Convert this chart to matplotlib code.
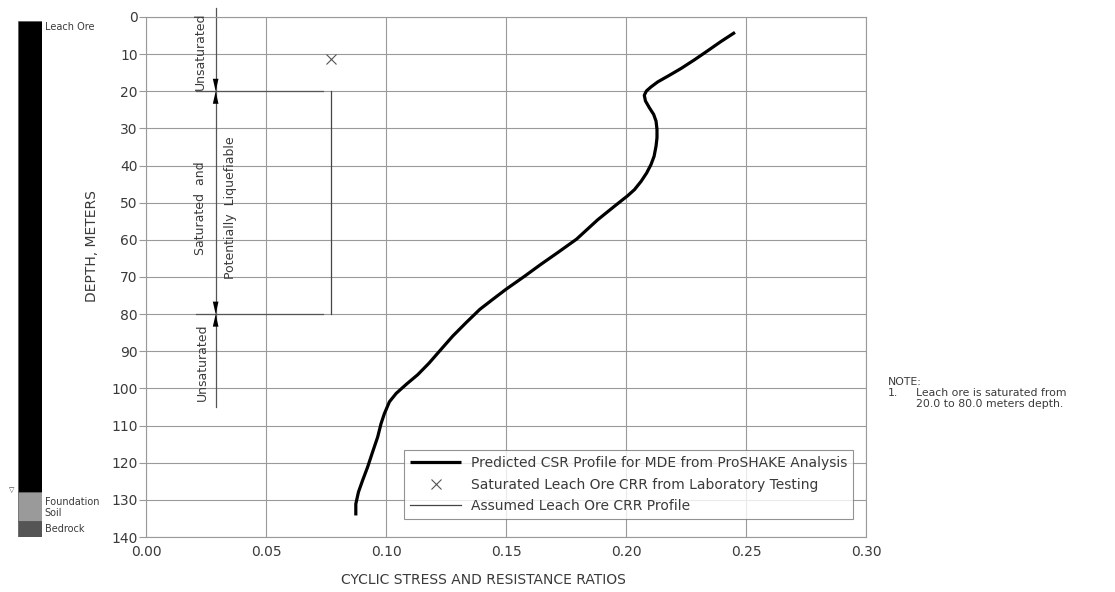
import matplotlib
matplotlib.use("Agg")
import matplotlib.pyplot as plt

plt.rcParams["font.family"] = ["DejaVu Sans"]

# predicted CSR profile (ProSHAKE)
csr_depth = [4.14, 6.58, 9.10, 11.53, 13.87, 15.68, 17.48, 18.83, 19.91, 21.08,
             22.61, 24.41, 26.22, 28.02, 30.27, 32.52, 34.77, 37.48, 39.73, 41.98,
             44.23, 46.49, 48.11, 50.99, 54.59, 59.8, 63.4, 66.6, 69.9, 73.3,
             76.2, 78.7, 82.2, 85.9, 89.5, 93.2, 96.3, 98.8, 101.35, 103.6,
             106.8, 109.5, 113.1, 117.1, 121.2, 124.8, 127.9, 131.1, 134.2]
csr_ratio = [0.2454, 0.2396, 0.2340, 0.2285, 0.2229, 0.2181, 0.2132, 0.2104, 0.2085, 0.2076,
             0.2081, 0.2097, 0.2115, 0.2125, 0.2129, 0.2129, 0.2125, 0.2117, 0.2104, 0.2086,
             0.2063, 0.2035, 0.2007, 0.1951, 0.1882, 0.1794, 0.1716, 0.1645, 0.1575, 0.1500,
             0.1441, 0.1391, 0.1335, 0.1278, 0.1229, 0.1179, 0.1132, 0.1086, 0.1042, 0.1014,
             0.0993, 0.0979, 0.0965, 0.0944, 0.0923, 0.0902, 0.0885, 0.0874, 0.0874]

# laboratory CRR point
lab_ratio = [0.077]
lab_depth = [11.3]

# assumed CRR profile over the saturated zone
crr_ratio = [0.077, 0.077]
crr_depth = [20.0, 80.0]
sat_top, sat_bottom = 20.0, 80.0

# soil column
layer_names = ["Leach Ore", "Foundation\nSoil", "Bedrock"]
layer_top = [1.1, 127.9, 135.7]
layer_bottom = [127.9, 135.7, 140.0]
layer_colors = ["#000000", "#9a9a9a", "#555555"]

x_ticks = [0.00, 0.05, 0.10, 0.15, 0.20, 0.25, 0.30]
y_ticks = list(range(0, 150, 10))

grid_c = "#9a9a9a"
text_c = "#3a3a3a"

fig = plt.figure(figsize=(11.15, 5.92), dpi=100)
ax = fig.add_axes([0.131, 0.0929, 0.6457, 0.8784])

ax.plot(csr_ratio, csr_depth, color="black", lw=2.3, solid_capstyle="butt",
        solid_joinstyle="round",
        label="Predicted CSR Profile for MDE from ProSHAKE Analysis", zorder=4)
ax.plot(lab_ratio, lab_depth, linestyle="none", marker="x", ms=7.5, mew=0.8,
        color="#555555", label="Saturated Leach Ore CRR from Laboratory Testing")
ax.plot(crr_ratio, crr_depth, color="#444444", lw=0.9,
        label="Assumed Leach Ore CRR Profile")

# dimension annotation for the saturated zone
dim_x = 0.029
ax.plot([dim_x, dim_x], [-2.5, 105], color="#555555", lw=0.9, clip_on=False)
for d in (sat_top, sat_bottom):
    ax.plot([0.021, 0.0737], [d, d], color="#555555", lw=0.9)
    for off in (-3.0, 3.0):
        ax.annotate("", xy=(dim_x, d), xytext=(dim_x, d + off),
                    arrowprops=dict(arrowstyle="-|>,head_length=0.75,head_width=0.17",
                                    color="black", lw=0, mutation_scale=12,
                                    shrinkA=0, shrinkB=0))

ann = dict(rotation=90, ha="center", va="center", fontsize=9, color=text_c)
ax.text(0.0225, 9.2, "Unsaturated", **ann)
ax.text(0.0225, 51.5, "Saturated  and", **ann)
ax.text(0.035, 51.3, "Potentially  Liquefiable", **ann)
ax.text(0.0235, 93.0, "Unsaturated", **ann)

ax.set_xlim(0, 0.30)
ax.set_ylim(140, 0)
ax.set_xticks(x_ticks)
ax.set_xticklabels([f"{v:.2f}" for v in x_ticks])
ax.set_yticks(y_ticks)
ax.grid(True, color=grid_c, lw=0.8)
ax.tick_params(axis="y", length=5, width=0.8, color=grid_c, labelsize=10,
               labelcolor=text_c, pad=1)
ax.tick_params(axis="x", length=0, labelsize=10, labelcolor=text_c, pad=6)
for s in ax.spines.values():
    s.set_color(grid_c)
    s.set_linewidth(0.8)

leg = ax.legend(loc="lower right", bbox_to_anchor=(0.982, 0.035), fontsize=10,
                frameon=True, fancybox=False, edgecolor="#777777",
                handlelength=3.7, handletextpad=0.7, borderpad=0.4,
                labelspacing=0.55, borderaxespad=0)
leg.get_frame().set_linewidth(0.8)
for t in leg.get_texts():
    t.set_color(text_c)

fig.text(0.434, 0.02, "CYCLIC STRESS AND RESISTANCE RATIOS", ha="center",
         va="center", fontsize=10, color=text_c)
fig.text(0.0825, 0.584, "DEPTH, METERS", rotation=90, ha="center",
         va="center", fontsize=10, color=text_c)

# soil column on the left
cax = fig.add_axes([0.0161, 0.0929, 0.0215, 0.8784])
heights = [b - t for t, b in zip(layer_top, layer_bottom)]
cax.bar([0.5] * 3, heights, bottom=layer_top, width=1.0, color=layer_colors,
        edgecolor="#555555", lw=0.5)
cax.set_xlim(0, 1)
cax.set_ylim(140, 0)
cax.axis("off")
label_depth = [2.8, 132.0, 137.9]
for name, d in zip(layer_names, label_depth):
    cax.text(1.12, d, name, fontsize=7, color=text_c, va="center", ha="left",
             linespacing=1.1)
fig.text(0.0105, 0.172, "▽", fontsize=5, ha="center", va="center", color=text_c)

# note
note = dict(fontsize=7.8, color=text_c, va="center", ha="left")
fig.text(0.7965, 0.355, "NOTE:", **note)
fig.text(0.7965, 0.3365, "1.", **note)
fig.text(0.8215, 0.3365, "Leach ore is saturated from", **note)
fig.text(0.8215, 0.318, "20.0 to 80.0 meters depth.", **note)

fig.savefig("out.png", dpi=100)
